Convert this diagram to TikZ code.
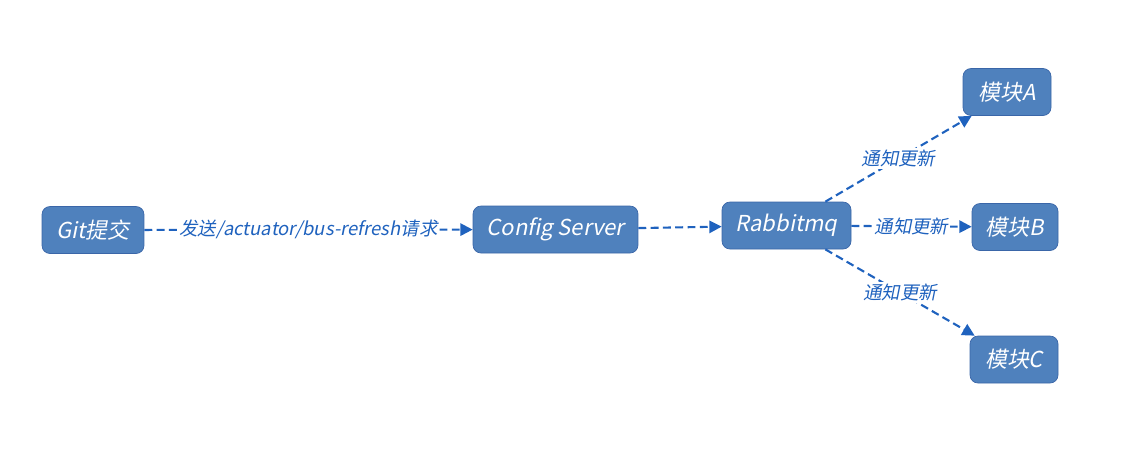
\documentclass[tikz,border=0pt]{standalone}
\usepackage{fontspec}
\setmainfont{Noto Sans CJK SC}[FakeSlant=0.2]
\usepackage{tikz}
\usetikzlibrary{arrows.meta}

\definecolor{boxfill}{HTML}{4F81BD}
\definecolor{boxline}{HTML}{3A66A8}
\definecolor{linkblue}{HTML}{1F62BE}

\tikzset{
  box/.style={draw=boxline, fill=boxfill, rounded corners=0.16cm, text=white,
    minimum height=0.94cm, inner sep=0pt, font=\fontsize{12.5}{14}\selectfont},
  link/.style={draw=linkblue, line width=1.2pt, dash pattern=on 4.5pt off 2.5pt,
    -{Triangle[length=7pt,width=7pt]}, linkblue},
  msg/.style={fill=white, inner sep=1pt, text=linkblue, font=\fontsize{10.5}{12}\selectfont}
}

\begin{document}
\begin{tikzpicture}[x=0.02cm,y=-0.02cm]
\useasboundingbox (0,0) rectangle (1148,450);
\node[box, minimum width=2.04cm] (git) at (93,230) {Git提交};
\node[box, minimum width=3.3cm] (cfg) at (555.5,229.5) {Config Server};
\node[box, minimum width=2.58cm] (rab) at (786.5,225.5) {Rabbitmq};
\node[box, minimum width=1.76cm] (modA) at (1007,92) {模块A};
\node[box, minimum width=1.72cm] (modB) at (1015,227) {模块B};
\node[box, minimum width=1.76cm] (modC) at (1014,359.5) {模块C};
% links
\draw[link] (git) -- node[msg] {发送/actuator/bus-refresh请求} (cfg);
\draw[link] (cfg) -- (rab);
\draw[link] ([xshift=-0.52cm]rab.north east) -- node[msg] {通知更新} ([xshift=0.18cm]modA.south west);
\draw[link] (rab) -- node[msg] {通知更新} (modB);
\draw[link] ([xshift=-0.52cm]rab.south east) -- node[msg] {通知更新} ([xshift=0.1cm]modC.north west);
\end{tikzpicture}
\end{document}
